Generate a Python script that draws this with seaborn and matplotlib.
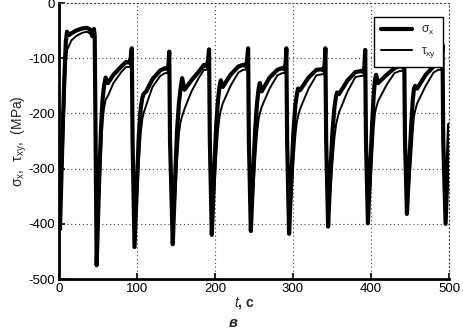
import matplotlib
matplotlib.use("Agg")
import matplotlib.pyplot as plt
import seaborn as sns
import pandas as pd

# Time samples, s
t_s = [
    0, 1.5, 3, 5, 7, 9, 10.5, 13, 16, 22, 30, 36, 40, 43, 45, 46,
    48.5, 51.5, 54, 56, 58, 60, 63, 70, 80, 86, 90, 92, 93.5, 94.5,
    97, 100, 102.5, 105, 107, 108.5, 112, 120, 130, 136, 139, 140.5, 141.5, 142.5,
    146, 149, 151.5, 154, 156, 158, 161, 170, 180, 186, 189, 191, 192.5, 193.5,
    196, 199, 201.5, 204, 206, 207.5, 210, 220, 230, 236, 239, 241, 242.5, 243.5,
    246, 249, 251.5, 254, 256, 257.5, 260, 270, 280, 286, 289, 290.5, 291.5, 292.5,
    295, 298, 300.5, 303, 305, 306.5, 309, 320, 330, 337, 339, 340.5, 341.5, 342.5,
    345, 348, 350.5, 353, 355, 356.5, 359, 370, 380, 388, 390, 391.5, 392.5, 393.5,
    396, 399, 401.5, 403.5, 405, 406.5, 409, 420, 430, 437, 440, 441.5, 442.5, 443.5,
    446, 449, 451.5, 453.5, 455, 456.5, 459, 470, 480, 486, 489, 490.5, 491.5, 492.5, 495.5, 498, 500,
]

# Normal stress sigma_x, MPa
sigma_x = [
    -310, -410, -330, -230, -140, -70, -52, -58, -55, -50, -46, -45, -48, -60, -47, -60,
    -475, -330, -230, -175, -150, -135, -145, -130, -115, -107, -108, -100, -82, -250,
    -442, -330, -240, -190, -172, -165, -160, -138, -122, -118, -120, -112, -88, -250,
    -437, -320, -230, -180, -155, -136, -157, -140, -123, -112, -114, -106, -84, -250,
    -420, -310, -225, -175, -150, -140, -152, -130, -115, -112, -114, -106, -82, -250,
    -413, -310, -230, -180, -155, -145, -160, -135, -121, -118, -120, -110, -82, -250,
    -418, -315, -235, -185, -165, -155, -158, -135, -121, -120, -122, -112, -82, -250,
    -405, -305, -235, -190, -170, -162, -165, -140, -125, -123, -125, -115, -85, -250,
    -399, -300, -215, -165, -140, -130, -145, -130, -118, -114, -116, -108, -95, -250,
    -382, -290, -220, -175, -155, -150, -155, -130, -115, -112, -114, -104, -76, -250, -400, -300, -220,
]

# Shear stress tau_xy, MPa
tau_xy = [
    -220, -390, -340, -280, -190, -110, -85, -78, -68, -60, -54, -52, -55, -62, -56, -65,
    -445, -360, -270, -215, -190, -175, -168, -145, -125, -116, -116, -112, -100, -230,
    -420, -360, -290, -235, -210, -200, -185, -152, -132, -127, -127, -122, -105, -230,
    -415, -355, -285, -235, -215, -205, -192, -160, -134, -121, -121, -117, -100, -230,
    -398, -345, -280, -230, -205, -195, -182, -150, -126, -121, -121, -117, -98, -230,
    -392, -345, -285, -235, -210, -200, -188, -155, -131, -127, -127, -121, -98, -230,
    -395, -350, -290, -240, -215, -205, -192, -155, -131, -129, -129, -123, -98, -230,
    -383, -340, -290, -245, -222, -212, -198, -160, -134, -132, -132, -126, -100, -230,
    -378, -335, -275, -225, -200, -190, -178, -148, -127, -123, -123, -119, -106, -230,
    -362, -325, -275, -230, -205, -195, -182, -150, -126, -121, -121, -116, -94, -230, -378, -330, -270,
]

x_ticks = [0, 100, 200, 300, 400, 500]
y_ticks = [0, -100, -200, -300, -400, -500]

sns.set_theme(style="white")
plt.rcParams["font.family"] = ["Liberation Sans", "DejaVu Sans"]
plt.rcParams["mathtext.fontset"] = "custom"
plt.rcParams["mathtext.rm"] = "Liberation Sans"
plt.rcParams["mathtext.it"] = "Liberation Sans:italic"

df = pd.DataFrame({"t": t_s, "sx": sigma_x, "txy": tau_xy})

fig = plt.figure(figsize=(4.63, 3.35), dpi=100)
ax = fig.add_axes([0.127, 0.167, 0.843, 0.824])

sns.lineplot(data=df, x="t", y="txy", ax=ax, color="black", linewidth=1.4,
             estimator=None, sort=False, label=r"τ$_{\mathrm{xy}}$")
sns.lineplot(data=df, x="t", y="sx", ax=ax, color="black", linewidth=3.0,
             estimator=None, sort=False, label=r"σ$_{\mathrm{x}}$")

ax.set_xlim(0, 500)
ax.set_ylim(-500, 0)
ax.set_xticks(x_ticks)
ax.set_yticks(y_ticks)
ax.set_xticklabels([str(v) for v in x_ticks])
ax.set_yticklabels([str(v) for v in y_ticks])
ax.tick_params(axis="both", direction="in", length=4, width=1.2, colors="black",
               labelsize=9.5, pad=3, top=False, right=False, left=True, bottom=True)

ax.grid(True, linestyle=(0, (1, 2.5)), color="#444444", linewidth=0.8)
for side in ["left", "bottom"]:
    ax.spines[side].set_color("black")
    ax.spines[side].set_linewidth(2.0)
for side in ["top", "right"]:
    ax.spines[side].set_color("#444444")
    ax.spines[side].set_linewidth(0.8)
    ax.spines[side].set_linestyle((0, (1, 2.5)))

ax.set_xlabel("")
ax.set_ylabel(r"σ$_{\mathrm{x}}$,  τ$_{\mathrm{xy}}$,  (MPa)", fontsize=10, labelpad=-1)

handles, labels = ax.get_legend_handles_labels()
leg = ax.legend(handles[::-1], labels[::-1], loc="upper right",
                bbox_to_anchor=(0.985, 0.95), borderaxespad=0.0, frameon=True,
                fancybox=False, edgecolor="black", framealpha=1.0, fontsize=8.5,
                handlelength=2.6, borderpad=0.6, labelspacing=0.7, handletextpad=0.8)
leg.get_frame().set_linewidth(1.0)
leg.set_zorder(10)

fig.text(0.527, 0.095, r"$\mathbf{\mathit{t}}$, c", fontsize=10, ha="center", va="center",
         fontweight="bold")
fig.text(0.503, 0.035, "в", fontsize=10.5, ha="center", va="center",
         fontweight="bold", fontstyle="italic")

fig.savefig("out.png", dpi=100)
